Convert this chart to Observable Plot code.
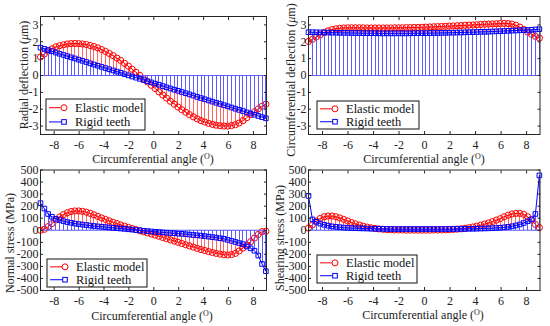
<!DOCTYPE html>
<html><head><meta charset="utf-8">
<script src="https://cdn.jsdelivr.net/npm/d3@7"></script>
<script src="https://cdn.jsdelivr.net/npm/@observablehq/plot@0.6"></script>
<style>
body{margin:0;background:#fff;}
#root{position:relative;width:550px;height:326px;overflow:hidden;background:#fff;}
#root svg{position:absolute;overflow:visible;}
</style></head><body><div id="root"></div>
<script>
// ---------- data ----------
const angles = [-9.10,-8.79,-8.49,-8.18,-7.87,-7.57,-7.26,-6.95,-6.65,-6.34,-6.03,-5.73,-5.42,-5.11,-4.81,-4.50,-4.19,-3.88,-3.58,-3.27,-2.96,-2.66,-2.35,-2.04,-1.74,-1.43,-1.12,-0.82,-0.51,-0.20,0.10,0.41,0.72,1.02,1.33,1.64,1.94,2.25,2.56,2.86,3.17,3.48,3.79,4.09,4.40,4.71,5.01,5.32,5.63,5.93,6.24,6.55,6.85,7.16,7.47,7.77,8.08,8.39,8.69,9.00];

const radialElastic = [1.10,1.28,1.45,1.58,1.70,1.77,1.82,1.87,1.89,1.90,1.89,1.87,1.84,1.78,1.72,1.64,1.54,1.43,1.31,1.18,1.03,0.89,0.72,0.55,0.37,0.19,0.00,-0.19,-0.38,-0.58,-0.77,-0.97,-1.16,-1.34,-1.53,-1.70,-1.87,-2.03,-2.18,-2.32,-2.45,-2.57,-2.68,-2.76,-2.84,-2.90,-2.95,-2.98,-3.00,-3.00,-2.97,-2.92,-2.82,-2.68,-2.50,-2.32,-2.15,-1.98,-1.83,-1.70];
const radialRigid = [1.65,1.58,1.51,1.44,1.36,1.29,1.22,1.15,1.08,1.01,0.94,0.87,0.80,0.72,0.65,0.58,0.51,0.44,0.37,0.30,0.23,0.16,0.08,0.01,-0.06,-0.13,-0.20,-0.27,-0.34,-0.41,-0.48,-0.55,-0.63,-0.70,-0.77,-0.84,-0.91,-0.98,-1.05,-1.12,-1.19,-1.27,-1.34,-1.41,-1.48,-1.55,-1.62,-1.69,-1.76,-1.83,-1.90,-1.97,-2.04,-2.11,-2.19,-2.26,-2.33,-2.40,-2.47,-2.54];

const circElastic = [2.02,2.15,2.28,2.42,2.55,2.65,2.72,2.77,2.80,2.82,2.83,2.83,2.83,2.83,2.83,2.82,2.82,2.82,2.82,2.82,2.82,2.82,2.83,2.83,2.83,2.84,2.84,2.85,2.85,2.86,2.87,2.88,2.89,2.90,2.91,2.92,2.93,2.94,2.95,2.96,2.98,2.99,3.00,3.01,3.03,3.04,3.05,3.06,3.07,3.08,3.09,3.08,3.05,2.98,2.87,2.73,2.58,2.44,2.32,2.22];
const circRigid = [2.57,2.57,2.56,2.56,2.55,2.55,2.54,2.54,2.53,2.53,2.53,2.52,2.52,2.52,2.51,2.51,2.51,2.51,2.50,2.50,2.50,2.50,2.50,2.50,2.50,2.50,2.50,2.51,2.51,2.51,2.51,2.52,2.52,2.52,2.53,2.53,2.54,2.54,2.55,2.55,2.56,2.57,2.57,2.58,2.59,2.59,2.60,2.61,2.62,2.63,2.64,2.65,2.66,2.67,2.68,2.69,2.70,2.71,2.73,2.75];

const normalElastic = [0,8,30,55,85,110,130,145,155,160,160,157,150,140,128,115,102,90,78,66,55,44,34,24,14,5,-4,-13,-22,-31,-40,-50,-60,-70,-80,-90,-100,-110,-120,-130,-140,-150,-160,-168,-177,-185,-192,-198,-203,-205,-202,-192,-172,-148,-122,-95,-65,-35,-12,-8];
const normalRigid = [225,180,135,112,95,85,76,68,62,56,51,47,43,39,35,32,29,26,23,20,17,14,11,8,5,2,-1,-4,-7,-10,-13,-15,-18,-20,-23,-25,-28,-30,-33,-36,-39,-42,-45,-49,-53,-57,-61,-66,-71,-80,-88,-97,-106,-115,-135,-150,-170,-210,-280,-340];

const shearElastic = [18,45,75,98,112,118,118,112,102,90,77,64,53,43,34,26,20,15,11,8,5,4,3,2,2,1,1,1,1,1,1,1,2,2,3,4,5,7,9,12,16,21,27,34,42,51,61,72,84,96,112,125,135,140,140,132,112,85,48,22];
const shearRigid = [285,90,70,55,45,38,32,28,25,22,20,18,17,16,15,14,13,12,12,11,11,10,10,10,10,10,10,10,10,10,10,10,10,10,10,10,10,10,11,11,11,12,12,13,14,15,16,17,19,21,24,28,33,40,48,60,75,92,135,455];

const xTicks = [-8,-6,-4,-2,0,2,4,6,8];
const yTicksDeflection = [-3,-2,-1,0,1,2,3];
const yTicksStress = [-500,-400,-300,-200,-100,0,100,200,300,400,500];
const legendLabels = ["Elastic model", "Rigid teeth"];
const xTitle = "Circumferential angle";

// ---------- layout ----------
const FONT = "'Liberation Serif','Times New Roman',serif";
const panels = [
  {left:0, top:0, ml:40, mr:9, mt:16, mb:29, yDomain:[-3.5,3.5], yTicks:yTicksDeflection,
   elastic:radialElastic, rigid:radialRigid, yParts:["Radial deflection (",["μ",true],"m)"],
   yl:{x:24,y:75}, xl:{x:153,y:158.5}, pad:9, lg:{x:46,y:99,w:99,h:31}},
  {left:275, top:0, ml:33, mr:10.5, mt:16, mb:29, yDomain:[-3.5,3.5], yTicks:yTicksDeflection,
   elastic:circElastic, rigid:circRigid, yParts:["Circumferential deflection (",["μ",true],"m)"],
   yl:{x:16,y:80}, xl:{x:149,y:158.5}, pad:9, lg:{x:42,y:101,w:102,h:28}},
  {left:0, top:163, ml:40, mr:9, mt:6.5, mb:36, yDomain:[-500,500], yTicks:yTicksStress,
   elastic:normalElastic, rigid:normalRigid, yParts:["Normal stress (MPa)"],
   yl:{x:10,y:80}, xl:{x:152,y:152.5}, pad:9, lg:{x:47,y:96,w:100,h:28}},
  {left:275, top:163, ml:33, mr:10.5, mt:6.5, mb:36, yDomain:[-500,500], yTicks:yTicksStress,
   elastic:shearElastic, rigid:shearRigid, yParts:["Shearing stress (MPa)"],
   yl:{x:5,y:75}, xl:{x:148,y:152}, pad:9, lg:{x:42,y:92,w:100,h:28}}
];

const root = document.getElementById("root");
const fmt = d => String(d);

for (const p of panels) {
  const data = angles.map((a, i) => ({a, e: p.elastic[i], r: p.rigid[i]}));
  const W = 275, H = 163;
  const svg = Plot.plot({
    width: W, height: H,
    marginLeft: p.ml, marginRight: p.mr, marginTop: p.mt, marginBottom: p.mb,
    style: {fontFamily: FONT, fontSize: "12px", color: "#222", background: "transparent", overflow: "visible"},
    x: {domain: [-9.1, 9.05]},
    y: {domain: p.yDomain},
    marks: [
      Plot.ruleX(data, {x: "a", y1: 0, y2: "e", stroke: "#ff6464", strokeWidth: 1, shapeRendering: "crispEdges"}),
      Plot.line(data, {x: "a", y: "e", stroke: "#ff0000", strokeWidth: 1}),
      Plot.dot(data, {x: "a", y: "e", r: 3.1, stroke: "#ff0000", fill: "none", strokeWidth: 1}),
      Plot.ruleX(data, {x: "a", y1: 0, y2: "r", stroke: "#5c5cff", strokeWidth: 1, shapeRendering: "crispEdges"}),
      Plot.ruleY([0], {stroke: "#5a5aff", strokeWidth: 1}),
      Plot.line(data, {x: "a", y: "r", stroke: "#0000ff", strokeWidth: 1}),
      Plot.dot(data, {x: "a", y: "r", symbol: "square", r: 2.6, stroke: "#0000ff", fill: "none", strokeWidth: 1}),
      Plot.frame({stroke: "#262626", strokeWidth: 1}),
      Plot.axisX({anchor: "bottom", ticks: xTicks, tickSize: -3, tickPadding: p.pad, tickFormat: fmt, label: null, stroke: "#262626"}),
      Plot.axisX({anchor: "top", ticks: xTicks, tickSize: -3, tickFormat: () => "", label: null, stroke: "#262626"}),
      Plot.axisY({anchor: "left", ticks: p.yTicks, tickSize: -3, tickPadding: 5, tickFormat: fmt, label: null, stroke: "#262626"}),
      Plot.axisY({anchor: "right", ticks: p.yTicks, tickSize: -3, tickFormat: () => "", label: null, stroke: "#262626"})
    ]
  });
  svg.style.left = p.left + "px";
  svg.style.top = p.top + "px";
  root.appendChild(svg);
  const s = d3.select(svg);
  // drop the empty tick-label texts of the mirrored (top/right) axes
  s.selectAll("text").filter(function () { return this.textContent.trim() === ""; }).remove();

  // y-axis title
  const yt = s.append("text")
    .attr("transform", `translate(${p.yl.x},${p.yl.y}) rotate(-90)`)
    .attr("text-anchor", "middle").attr("dy", "0.35em")
    .attr("font-family", FONT).attr("font-size", 12).attr("fill", "#222");
  for (const part of p.yParts) {
    if (Array.isArray(part)) yt.append("tspan").attr("font-style", "italic").text(part[0]);
    else yt.append("tspan").text(part);
  }
  // x-axis title
  const xt = s.append("text")
    .attr("x", p.xl.x).attr("y", p.xl.y).attr("text-anchor", "middle").attr("dy", "0.35em")
    .attr("font-family", FONT).attr("font-size", 12).attr("fill", "#222");
  xt.append("tspan").text(xTitle + " (");
  xt.append("tspan").attr("font-size", 8).attr("dy", "-0.5em").text("O");
  xt.append("tspan").attr("dy", "0.33em").text(")");

  // legend
  const lg = s.append("g").attr("transform", `translate(${p.lg.x},${p.lg.y})`).attr("text-anchor", "start");
  lg.append("rect").attr("width", p.lg.w).attr("height", p.lg.h).attr("fill", "white").attr("stroke", "#111").attr("stroke-width", 1);
  const rows = [p.lg.h * 0.28, p.lg.h * 0.74];
  const colors = ["#ff0000", "#0000ff"];
  rows.forEach((ry, i) => {
    lg.append("line").attr("x1", 3).attr("x2", 21).attr("y1", ry).attr("y2", ry).attr("stroke", colors[i]);
    if (i === 0) lg.append("circle").attr("cx", 18).attr("cy", ry).attr("r", 3).attr("fill", "white").attr("stroke", colors[i]);
    else lg.append("rect").attr("x", 15.7).attr("y", ry - 2.3).attr("width", 4.6).attr("height", 4.6).attr("fill", "white").attr("stroke", colors[i]);
    lg.append("text").attr("x", 29).attr("y", ry).attr("dy", "0.35em").attr("text-anchor", "start")
      .attr("font-family", FONT).attr("font-size", 12.5).attr("fill", "#111").text(legendLabels[i]);
  });
}
</script></body></html>
